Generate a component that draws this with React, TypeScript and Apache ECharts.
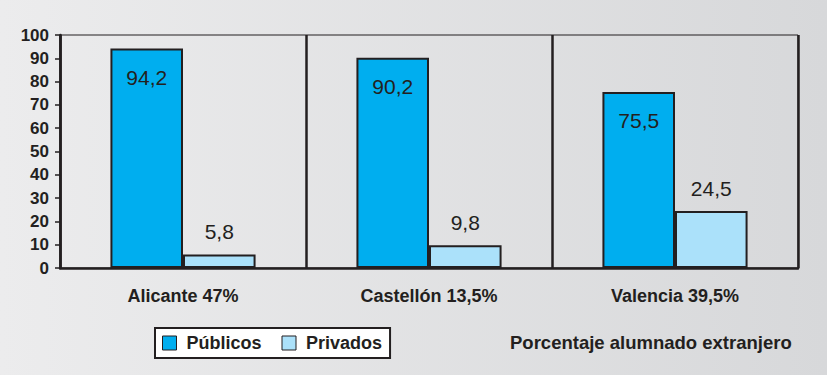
import React, { useEffect, useRef } from "react";
import * as echarts from "echarts";

const categories = ["Alicante 47%", "Castellón 13,5%", "Valencia 39,5%"];
const publicos = [94.2, 90.2, 75.5];
const privados = [5.8, 9.8, 24.5];
const seriesNames = ["Públicos", "Privados"];
const noteText = "Porcentaje alumnado extranjero";

const FONT = "'Liberation Sans', Arial, Helvetica, sans-serif";
const DARK = "#231f20";

export default function App() {
  const ref = useRef<HTMLDivElement>(null);
  useEffect(() => {
    if (!ref.current) return;
    const chart = echarts.init(ref.current, undefined, { renderer: "svg" });
    const fmt = (p: any) => String(p.value).replace(".", ",");
    chart.setOption({
      animation: false,
      backgroundColor: new echarts.graphic.LinearGradient(0, 0, 1, 0, [
        { offset: 0, color: "#ececed" },
        { offset: 1, color: "#d7d8da" },
      ]),
      textStyle: { fontFamily: FONT },
      title: {
        text: noteText,
        left: 505,
        top: 328,
        textStyle: { fontFamily: FONT, fontSize: 18.5, fontWeight: "bold", color: DARK },
      },
      legend: {
        left: 155,
        top: 328,
        data: seriesNames,
        icon: "rect",
        itemWidth: 14,
        itemHeight: 14,
        itemGap: 20,
        padding: [6, 8, 6, 7],
        borderColor: DARK,
        borderWidth: 2,
        borderRadius: 0,
        backgroundColor: "#ffffff",
        textStyle: {
          fontFamily: FONT,
          fontSize: 18,
          fontWeight: "bold",
          color: DARK,
          padding: [0, 0, 0, 5],
        },
        itemStyle: { borderColor: DARK, borderWidth: 1 },
      },
      grid: {
        left: 60,
        right: 29,
        top: 35,
        bottom: 107,
        show: true,
        borderColor: DARK,
        borderWidth: 1,
        backgroundColor: "transparent",
      },
      xAxis: {
        type: "category",
        data: categories,
        axisLine: { lineStyle: { color: DARK, width: 2.5 } },
        axisTick: { show: false },
        splitLine: { show: true, lineStyle: { color: DARK, width: 2.5 } },
        axisLabel: {
          margin: 19,
          fontFamily: FONT,
          fontSize: 18,
          fontWeight: "bold",
          color: DARK,
        },
      },
      yAxis: {
        type: "value",
        min: 0,
        max: 100,
        interval: 10,
        axisLine: { show: true, lineStyle: { color: DARK, width: 2.5 } },
        axisTick: { show: true, length: 5, lineStyle: { color: DARK, width: 1.5 } },
        splitLine: { show: false },
        axisLabel: {
          margin: 11,
          fontFamily: FONT,
          fontSize: 17,
          fontWeight: "bold",
          color: DARK,
        },
      },
      series: [
        {
          name: seriesNames[0],
          type: "bar",
          data: publicos,
          barWidth: "29.5%",
          barGap: "0%",
          itemStyle: { color: "#00aeef", borderColor: DARK, borderWidth: 2 },
          label: {
            show: true,
            position: "insideTop",
            distance: 18,
            formatter: fmt,
            fontFamily: FONT,
            fontSize: 21,
            color: DARK,
          },
        },
        {
          name: seriesNames[1],
          type: "bar",
          data: privados,
          barWidth: "29.5%",
          itemStyle: { color: "#abe1fa", borderColor: DARK, borderWidth: 2 },
          label: {
            show: true,
            position: "top",
            distance: 12,
            formatter: fmt,
            fontFamily: FONT,
            fontSize: 21,
            color: DARK,
          },
        },
      ],
    });
    return () => chart.dispose();
  }, []);
  return (
    <div
      ref={ref}
      style={{ position: "absolute", left: 0, top: 0, width: 827, height: 375 }}
    />
  );
}
